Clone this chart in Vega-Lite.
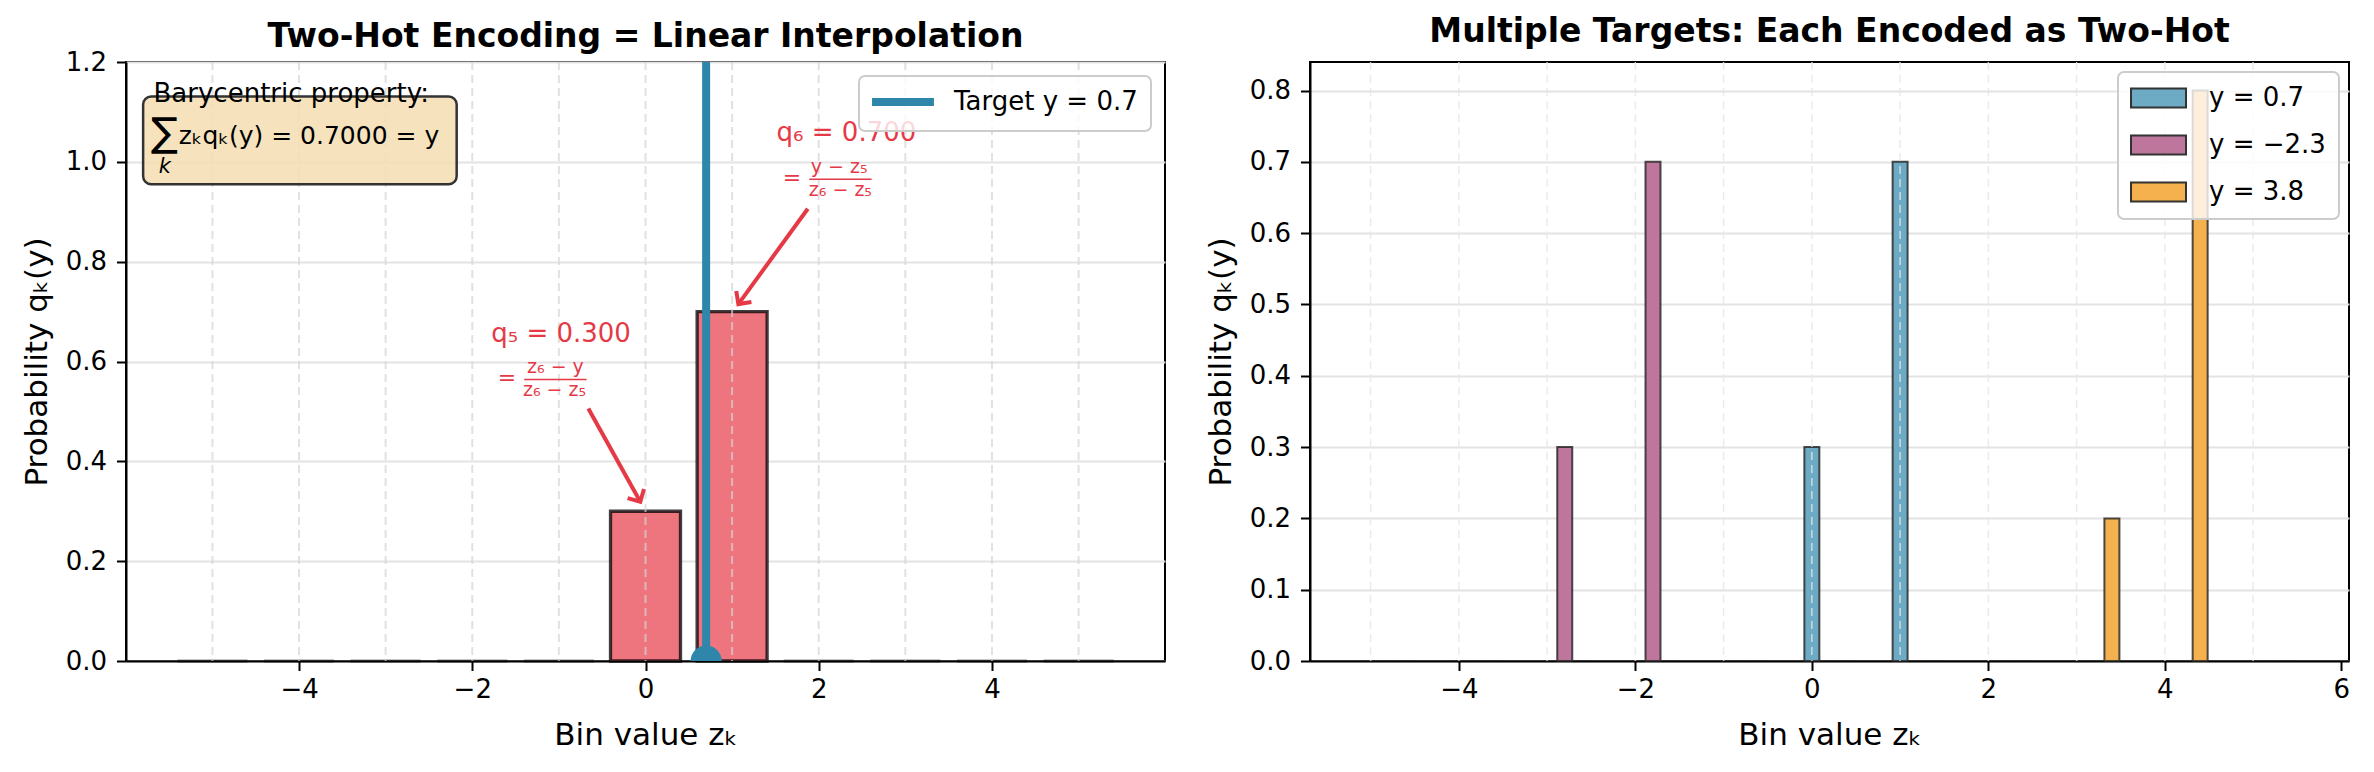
{
  "$schema": "https://vega.github.io/schema/vega-lite/v6.json",
  "padding": {"left": 20, "right": 18, "top": 15, "bottom": 10},
  "spacing": 38,
  "background": "white",
  "datasets": {
    "bins": [
      {"z": -5, "q": 0}, {"z": -4, "q": 0}, {"z": -3, "q": 0}, {"z": -2, "q": 0},
      {"z": -1, "q": 0}, {"z": 0, "q": 0.3}, {"z": 1, "q": 0.7}, {"z": 2, "q": 0},
      {"z": 3, "q": 0}, {"z": 4, "q": 0}, {"z": 5, "q": 0}
    ],
    "multi": [
      {"target": "y = 0.7", "z": -5, "q": 0}, {"target": "y = 0.7", "z": -4, "q": 0},
      {"target": "y = 0.7", "z": -3, "q": 0}, {"target": "y = 0.7", "z": -2, "q": 0},
      {"target": "y = 0.7", "z": -1, "q": 0}, {"target": "y = 0.7", "z": 0, "q": 0.3},
      {"target": "y = 0.7", "z": 1, "q": 0.7}, {"target": "y = 0.7", "z": 2, "q": 0},
      {"target": "y = 0.7", "z": 3, "q": 0}, {"target": "y = 0.7", "z": 4, "q": 0},
      {"target": "y = 0.7", "z": 5, "q": 0},
      {"target": "y = −2.3", "z": -4.8, "q": 0}, {"target": "y = −2.3", "z": -3.8, "q": 0},
      {"target": "y = −2.3", "z": -2.8, "q": 0.3}, {"target": "y = −2.3", "z": -1.8, "q": 0.7},
      {"target": "y = −2.3", "z": -0.8, "q": 0}, {"target": "y = −2.3", "z": 0.2, "q": 0},
      {"target": "y = −2.3", "z": 1.2, "q": 0}, {"target": "y = −2.3", "z": 2.2, "q": 0},
      {"target": "y = −2.3", "z": 3.2, "q": 0}, {"target": "y = −2.3", "z": 4.2, "q": 0},
      {"target": "y = −2.3", "z": 5.2, "q": 0},
      {"target": "y = 3.8", "z": -4.6, "q": 0}, {"target": "y = 3.8", "z": -3.6, "q": 0},
      {"target": "y = 3.8", "z": -2.6, "q": 0}, {"target": "y = 3.8", "z": -1.6, "q": 0},
      {"target": "y = 3.8", "z": -0.6, "q": 0}, {"target": "y = 3.8", "z": 0.4, "q": 0},
      {"target": "y = 3.8", "z": 1.4, "q": 0}, {"target": "y = 3.8", "z": 2.4, "q": 0},
      {"target": "y = 3.8", "z": 3.4, "q": 0.2}, {"target": "y = 3.8", "z": 4.4, "q": 0.8},
      {"target": "y = 3.8", "z": 5.4, "q": 0}
    ]
  },
  "config": {
    "font": "DejaVu Sans",
    "view": {"stroke": "#000", "strokeWidth": 2},
    "axis": {
      "domainColor": "#000", "domainWidth": 2, "tickColor": "#000", "tickWidth": 2, "tickSize": 9.5,
      "labelFontSize": 26, "labelColor": "#000", "labelFont": "DejaVu Sans",
      "titleFontSize": 31, "titleFontWeight": "normal", "titleColor": "#000", "titleFont": "DejaVu Sans",
      "gridColor": "#e3e3e3", "gridWidth": 2, "zindex": 1
    },
    "axisX": {"grid": false, "labelPadding": 6, "titlePadding": 18},
    "axisY": {"grid": true, "labelPadding": 10, "titlePadding": 12},
    "title": {"fontSize": 33, "fontWeight": "bold", "color": "#000", "font": "DejaVu Sans"},
    "legend": {
      "labelFontSize": 26, "labelColor": "#000", "labelFont": "DejaVu Sans", "labelLimit": 600,
      "fillColor": "rgba(255,255,255,0.8)", "strokeColor": "#cccccc", "strokeWidth": 2,
      "cornerRadius": 6, "padding": 13, "orient": "top-right", "offset": 14
    }
  },
  "resolve": {"scale": {"color": "independent", "x": "independent", "y": "independent"}, "legend": {"color": "independent"}},
  "hconcat": [
    {
      "width": 1039,
      "height": 599,
      "title": {"text": "Two-Hot Encoding = Linear Interpolation", "offset": -5},
      "data": {"name": "bins"},
      "layer": [
        {
          "mark": {"type": "bar", "width": 70, "fill": "#EE747E", "stroke": "#000", "strokeWidth": 3.3},
          "encoding": {
            "x": {"field": "z", "type": "quantitative", "title": "Bin value zₖ",
                  "scale": {"domain": [-5.94, 5.94], "nice": false, "zero": false},
                  "axis": {"values": [-4, -2, 0, 2, 4], "format": "d"}},
            "y": {"field": "q", "type": "quantitative", "title": "Probability qₖ(y)",
                  "scale": {"domain": [0, 1.2], "nice": false},
                  "axis": {"values": [0, 0.2, 0.4, 0.6, 0.8, 1.0, 1.2], "format": ".1f"}},
            "strokeOpacity": {"condition": {"test": "datum.q == 0", "value": 0.3}, "value": 0.75}
          }
        },
        {
          "mark": {"type": "rule", "color": "#d4d4d4", "strokeWidth": 2, "strokeDash": [8, 5], "opacity": 0.7},
          "encoding": {"x": {"field": "z", "type": "quantitative"}}
        },
        {
          "data": {"values": [{}]},
          "mark": {"type": "rule", "strokeWidth": 8},
          "encoding": {
            "x": {"datum": 0.7, "type": "quantitative"},
            "color": {"datum": "Target y = 0.7", "type": "nominal",
                      "scale": {"range": ["#2E86AB"]},
                      "legend": {"title": null, "symbolType": "M-1.44,0L5.44,0", "symbolSize": 324, "symbolStrokeWidth": 8, "labelOffset": 56, "padding": 13}}
          }
        },
        {
          "data": {"values": [{}]},
          "mark": {"type": "point", "shape": "circle", "filled": true, "size": 960, "color": "#2E86AB", "opacity": 1, "clip": true},
          "encoding": {"x": {"datum": 0.7, "type": "quantitative"}, "y": {"datum": 0, "type": "quantitative"}}
        },
        {
          "data": {"values": [{}]},
          "mark": {"type": "rect", "fill": "#F5DEB3", "fillOpacity": 0.85, "stroke": "#333", "strokeWidth": 2.5, "cornerRadius": 8},
          "encoding": {
            "x": {"datum": -5.8, "type": "quantitative"}, "x2": {"datum": -2.18},
            "y": {"datum": 0.955, "type": "quantitative"}, "y2": {"datum": 1.131}
          }
        },
        {
          "data": {"values": [{}]},
          "mark": {"type": "text", "text": "Barycentric property:", "fontSize": 26, "align": "left", "baseline": "alphabetic", "color": "#000"},
          "encoding": {"x": {"datum": -5.68, "type": "quantitative"}, "y": {"datum": 1.12, "type": "quantitative"}}
        },
        {
          "data": {"values": [{}]},
          "mark": {"type": "text", "text": "∑", "fontSize": 40, "align": "left", "baseline": "middle", "color": "#000"},
          "encoding": {"x": {"datum": -5.71, "type": "quantitative"}, "y": {"datum": 1.056, "type": "quantitative"}}
        },
        {
          "data": {"values": [{}]},
          "mark": {"type": "text", "text": "k", "fontSize": 21, "fontStyle": "italic", "align": "center", "baseline": "middle", "color": "#000"},
          "encoding": {"x": {"datum": -5.55, "type": "quantitative"}, "y": {"datum": 0.99, "type": "quantitative"}}
        },
        {
          "data": {"values": [{}]},
          "mark": {"type": "text", "text": "zₖqₖ(y) = 0.7000 = y", "fontSize": 25, "align": "left", "baseline": "alphabetic", "color": "#000"},
          "encoding": {"x": {"datum": -5.39, "type": "quantitative"}, "y": {"datum": 1.035, "type": "quantitative"}}
        },
        {
          "data": {"values": [{}]},
          "mark": {"type": "rule", "color": "#E63946", "strokeWidth": 4},
          "encoding": {
            "x": {"datum": 1.874, "type": "quantitative"}, "y": {"datum": 0.906, "type": "quantitative"},
            "x2": {"datum": 1.072}, "y2": {"datum": 0.715}
          }
        },
        {
          "data": {"values": [{}]},
          "mark": {"type": "point", "shape": "M-1,1L0,0L1,1", "filled": false, "stroke": "#E63946", "strokeWidth": 4, "size": 350, "angle": 216, "opacity": 1},
          "encoding": {"x": {"datum": 1.072, "type": "quantitative"}, "y": {"datum": 0.715, "type": "quantitative"}}
        },
        {
          "data": {"values": [{}]},
          "mark": {"type": "rule", "color": "#E63946", "strokeWidth": 4},
          "encoding": {
            "x": {"datum": -0.66, "type": "quantitative"}, "y": {"datum": 0.506, "type": "quantitative"},
            "x2": {"datum": -0.06}, "y2": {"datum": 0.319}
          }
        },
        {
          "data": {"values": [{}]},
          "mark": {"type": "point", "shape": "M-1,1L0,0L1,1", "filled": false, "stroke": "#E63946", "strokeWidth": 4, "size": 350, "angle": 151, "opacity": 1},
          "encoding": {"x": {"datum": -0.06, "type": "quantitative"}, "y": {"datum": 0.319, "type": "quantitative"}}
        },
        {
          "data": {"values": [{}]},
          "mark": {"type": "text", "text": "q₆ = 0.700", "fontSize": 26, "align": "center", "baseline": "middle", "color": "#E63946"},
          "encoding": {"x": {"datum": 2.32, "type": "quantitative"}, "y": {"datum": 1.057, "type": "quantitative"}}
        },
        {
          "data": {"values": [{}]},
          "mark": {"type": "text", "text": "=", "fontSize": 22, "align": "center", "baseline": "middle", "color": "#E63946"},
          "encoding": {"x": {"datum": 1.69, "type": "quantitative"}, "y": {"datum": 0.968, "type": "quantitative"}}
        },
        {
          "data": {"values": [{}]},
          "mark": {"type": "text", "text": "y − z₅", "fontSize": 19, "align": "center", "baseline": "middle", "color": "#E63946"},
          "encoding": {"x": {"datum": 2.236, "type": "quantitative"}, "y": {"datum": 0.99, "type": "quantitative"}}
        },
        {
          "data": {"values": [{}]},
          "mark": {"type": "rule", "color": "#E63946", "strokeWidth": 1.5},
          "encoding": {"x": {"datum": 1.89, "type": "quantitative"}, "x2": {"datum": 2.61}, "y": {"datum": 0.965, "type": "quantitative"}}
        },
        {
          "data": {"values": [{}]},
          "mark": {"type": "text", "text": "z₆ − z₅", "fontSize": 19, "align": "center", "baseline": "middle", "color": "#E63946"},
          "encoding": {"x": {"datum": 2.25, "type": "quantitative"}, "y": {"datum": 0.944, "type": "quantitative"}}
        },
        {
          "data": {"values": [{}]},
          "mark": {"type": "text", "text": "q₅ = 0.300", "fontSize": 26, "align": "center", "baseline": "middle", "color": "#E63946"},
          "encoding": {"x": {"datum": -0.975, "type": "quantitative"}, "y": {"datum": 0.656, "type": "quantitative"}}
        },
        {
          "data": {"values": [{}]},
          "mark": {"type": "text", "text": "=", "fontSize": 22, "align": "center", "baseline": "middle", "color": "#E63946"},
          "encoding": {"x": {"datum": -1.6, "type": "quantitative"}, "y": {"datum": 0.567, "type": "quantitative"}}
        },
        {
          "data": {"values": [{}]},
          "mark": {"type": "text", "text": "z₆ − y", "fontSize": 19, "align": "center", "baseline": "middle", "color": "#E63946"},
          "encoding": {"x": {"datum": -1.04, "type": "quantitative"}, "y": {"datum": 0.588, "type": "quantitative"}}
        },
        {
          "data": {"values": [{}]},
          "mark": {"type": "rule", "color": "#E63946", "strokeWidth": 1.5},
          "encoding": {"x": {"datum": -1.4, "type": "quantitative"}, "x2": {"datum": -0.68}, "y": {"datum": 0.564, "type": "quantitative"}}
        },
        {
          "data": {"values": [{}]},
          "mark": {"type": "text", "text": "z₆ − z₅", "fontSize": 19, "align": "center", "baseline": "middle", "color": "#E63946"},
          "encoding": {"x": {"datum": -1.05, "type": "quantitative"}, "y": {"datum": 0.543, "type": "quantitative"}}
        }
      ]
    },
    {
      "width": 1039,
      "height": 599,
      "title": {"text": "Multiple Targets: Each Encoded as Two-Hot", "offset": 12},
      "data": {"name": "multi"},
      "layer": [
        {
          "mark": {"type": "bar", "width": 15, "stroke": "#222", "strokeWidth": 2},
          "encoding": {
            "x": {"field": "z", "type": "quantitative", "title": "Bin value zₖ",
                  "scale": {"domain": [-5.63, 6.03], "nice": false, "zero": false},
                  "axis": {"values": [-4, -2, 0, 2, 4, 6], "format": "d"}},
            "y": {"field": "q", "type": "quantitative", "title": "Probability qₖ(y)",
                  "scale": {"domain": [0, 0.84], "nice": false},
                  "axis": {"values": [0, 0.1, 0.2, 0.3, 0.4, 0.5, 0.6, 0.7, 0.8], "format": ".1f"}},
            "color": {"field": "target", "type": "nominal",
                      "scale": {"domain": ["y = 0.7", "y = −2.3", "y = 3.8"], "range": ["#6DAAC4", "#BE769C", "#F5B14D"]},
                      "legend": {"title": null, "symbolType": "M-1.083,-0.79L3.5,-0.79L3.5,0.79L-1.083,0.79Z", "symbolSize": 576,
                                 "symbolStrokeColor": "#333", "symbolStrokeWidth": 2, "symbolOpacity": 1, "labelOffset": 52,
                                 "rowPadding": 19, "padding": 13, "offset": 10}},
            "strokeOpacity": {"condition": {"test": "datum.q == 0", "value": 0.15}, "value": 0.8}
          }
        },
        {
          "transform": [{"filter": "datum.target == 'y = 0.7'"}],
          "mark": {"type": "rule", "color": "#e6e6e6", "strokeWidth": 1.5, "strokeDash": [8, 5], "opacity": 0.8},
          "encoding": {"x": {"field": "z", "type": "quantitative"}}
        }
      ]
    }
  ]
}
